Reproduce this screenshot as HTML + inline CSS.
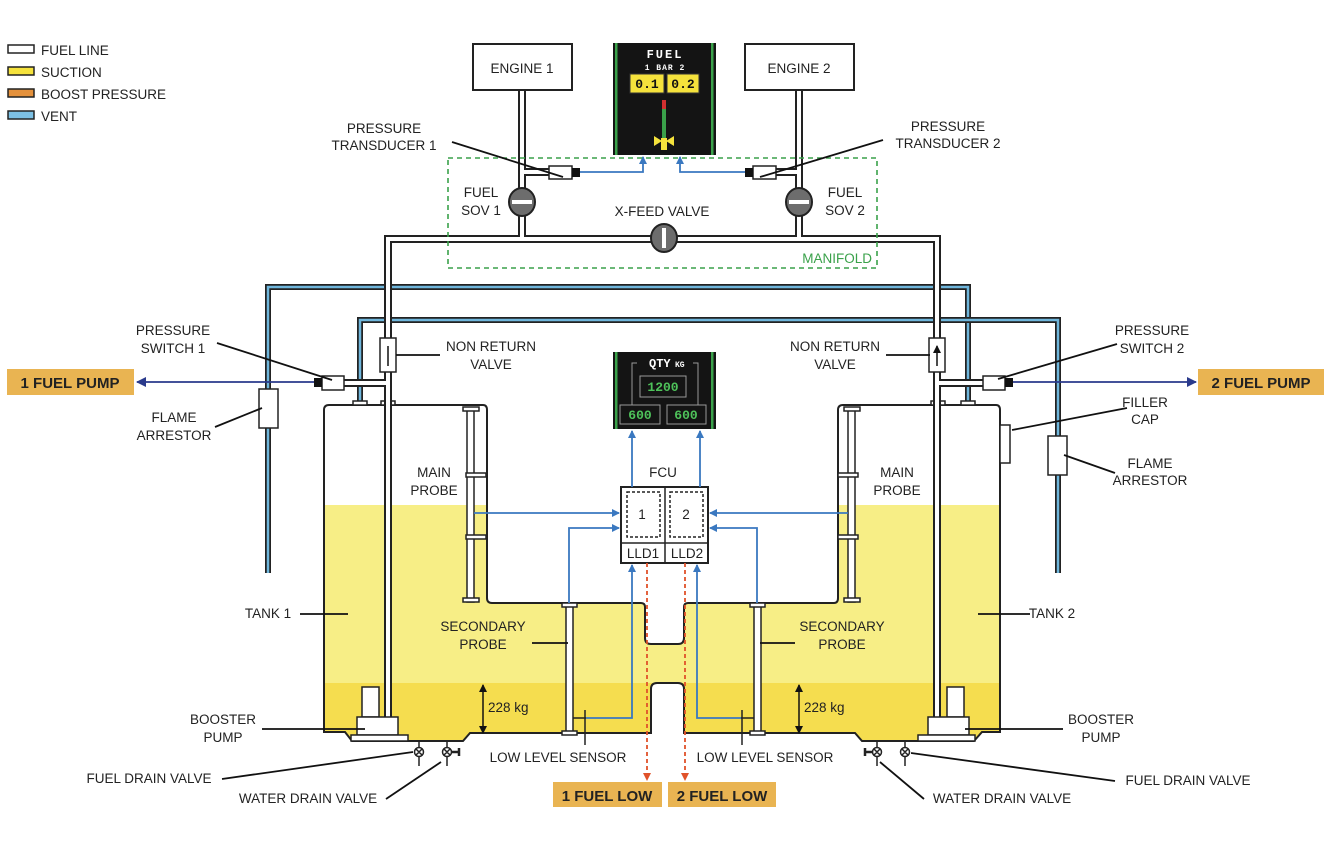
<!DOCTYPE html>
<html><head><meta charset="utf-8"><style>
html,body{margin:0;padding:0;background:#fff;}
svg{display:block;}
text{font-family:"Liberation Sans",sans-serif;font-size:13.5px;fill:#222;}
.c{text-anchor:middle;}
.mono{font-family:"Liberation Mono",monospace;font-weight:bold;}
</style></head><body>
<svg width="1334" height="850" viewBox="0 0 1334 850" xmlns="http://www.w3.org/2000/svg">
<defs>
<marker id="ab" markerWidth="8" markerHeight="8" refX="7" refY="4" orient="auto" markerUnits="userSpaceOnUse"><path d="M0,0 L8,4 L0,8 z" fill="#3a78c0"/></marker>
<marker id="an" markerWidth="10" markerHeight="10" refX="9" refY="5" orient="auto" markerUnits="userSpaceOnUse"><path d="M0,0 L10,5 L0,10 z" fill="#2a3a8c"/></marker>
<marker id="ar" markerWidth="8" markerHeight="8" refX="7" refY="4" orient="auto" markerUnits="userSpaceOnUse"><path d="M0,0 L8,4 L0,8 z" fill="#e0522a"/></marker>
<marker id="ak" markerWidth="8" markerHeight="8" refX="7" refY="4" orient="auto-start-reverse" markerUnits="userSpaceOnUse"><path d="M0,0 L8,4 L0,8 z" fill="#111"/></marker>
<clipPath id="tc"><path id="tp" d="M324,410 Q324,405 329,405 H483 Q487,405 487,410 V598 Q487,603 492,603 H641 Q645,603 645,607 V638 Q645,644 651,644 H678 Q684,644 684,638 V607 Q684,603 688,603 H834 Q838,603 838,598 V410 Q838,405 843,405 H996 Q1000,405 1000,410 V732 H982 L974,741 H862 L855,733 H684 V689 Q684,683 678,683 H657 Q651,683 651,689 V733 H470 L463,741 H352 L345,732 H324 Z"/></clipPath>
</defs>
<rect width="1334" height="850" fill="#fff"/>

<g stroke="#222" stroke-width="1.5">
<rect x="8" y="45" width="26" height="8" fill="#fff"/>
<rect x="8" y="67" width="26" height="8" fill="#f5e23c"/>
<rect x="8" y="89" width="26" height="8" fill="#e4913c"/>
<rect x="8" y="111" width="26" height="8" fill="#7cc0e4"/>
</g>
<text x="41" y="55">FUEL LINE</text>
<text x="41" y="77">SUCTION</text>
<text x="41" y="99">BOOST PRESSURE</text>
<text x="41" y="121">VENT</text>

<g clip-path="url(#tc)">
<rect x="300" y="505" width="720" height="178" fill="#f7ee86"/>
<rect x="300" y="683" width="720" height="70" fill="#f5dd4f"/>
</g>
<use href="#tp" fill="none" stroke="#222" stroke-width="2"/>

<g fill="none" stroke-linejoin="miter">
<path d="M268,573 V287 H968 V402" stroke="#222" stroke-width="6"/>
<path d="M268,573 V287 H968 V402" stroke="#6fb6dc" stroke-width="2.5"/>
<path d="M360,402 V320 H1058 V573" stroke="#222" stroke-width="6"/>
<path d="M360,402 V320 H1058 V573" stroke="#6fb6dc" stroke-width="2.5"/>
</g>
<g fill="#fff" stroke="#222" stroke-width="1.5">
<rect x="353" y="401" width="14" height="4"/><rect x="961" y="401" width="14" height="4"/>
<rect x="381" y="401" width="14" height="4"/><rect x="931" y="401" width="14" height="4"/>
<rect x="259" y="389" width="19" height="39"/>
<rect x="1048" y="436" width="19" height="39"/>
<rect x="1000" y="425" width="10" height="38"/>
</g>

<g fill="none" stroke-linejoin="miter">
<path d="M522,90 V239 M799,90 V239 M388,717 V239 H937 V717 M522,172 H550 M799,172 H770 M388,383 H340 M937,383 H985" stroke="#222" stroke-width="8"/>
<path d="M522,90 V239 M799,90 V239 M388,717 V239 H937 V717 M522,172 H550 M799,172 H770 M388,383 H340 M937,383 H985" stroke="#fff" stroke-width="4"/>
</g>

<rect x="473" y="44" width="99" height="46" fill="#fff" stroke="#222" stroke-width="2"/>
<text x="522" y="73" class="c">ENGINE 1</text>
<rect x="745" y="44" width="109" height="46" fill="#fff" stroke="#222" stroke-width="2"/>
<text x="799" y="73" class="c">ENGINE 2</text>

<rect x="613" y="43" width="103" height="112" fill="#141414"/>
<rect x="615" y="43" width="2.5" height="112" fill="#3aa14a"/>
<rect x="711" y="43" width="2.5" height="112" fill="#3aa14a"/>
<text x="665" y="58" class="c mono" style="fill:#fff;font-size:12px;letter-spacing:2px">FUEL</text>
<text x="665" y="70" class="c mono" style="fill:#fff;font-size:8px;letter-spacing:1px">1 BAR 2</text>
<rect x="630" y="74" width="34" height="19" fill="#f5e23c" stroke="#333"/>
<rect x="667" y="74" width="32" height="19" fill="#f5e23c" stroke="#333"/>
<text x="647" y="88" class="c mono" style="font-size:13px;fill:#111">0.1</text>
<text x="683" y="88" class="c mono" style="font-size:13px;fill:#111">0.2</text>
<rect x="662" y="100" width="4" height="9" fill="#d03030"/>
<rect x="662" y="109" width="4" height="32" fill="#3aa14a"/>
<rect x="661" y="138" width="6" height="12" fill="#f5e23c"/>
<path d="M654,136 L662,141 L654,146 Z M674,136 L666,141 L674,146 Z" fill="#f5e23c"/>

<rect x="549" y="166" width="23" height="13" fill="#fff" stroke="#222" stroke-width="1.5"/>
<rect x="572" y="168" width="8" height="9" fill="#111"/>
<rect x="753" y="166" width="23" height="13" fill="#fff" stroke="#222" stroke-width="1.5"/>
<rect x="745" y="168" width="8" height="9" fill="#111"/>
<path d="M580,172 H643 V157" fill="none" stroke="#3a78c0" stroke-width="1.8" marker-end="url(#ab)"/>
<path d="M745,172 H680 V157" fill="none" stroke="#3a78c0" stroke-width="1.8" marker-end="url(#ab)"/>

<g stroke="#222" stroke-width="2">
<ellipse cx="522" cy="202" rx="13" ry="14" fill="#6d6d6d"/>
<ellipse cx="799" cy="202" rx="13" ry="14" fill="#6d6d6d"/>
<ellipse cx="664" cy="238" rx="13" ry="14" fill="#6d6d6d"/>
</g>
<rect x="512" y="200" width="20" height="4" fill="#fff"/>
<rect x="789" y="200" width="20" height="4" fill="#fff"/>
<rect x="662" y="228" width="4" height="20" fill="#fff"/>

<rect x="448" y="158" width="429" height="110" fill="none" stroke="#3aa14a" stroke-width="1.6" stroke-dasharray="5,4"/>
<text x="872" y="263" style="fill:#3aa14a;text-anchor:end">MANIFOLD</text>

<rect x="380" y="338" width="16" height="34" fill="#fff" stroke="#222" stroke-width="1.5"/>
<rect x="929" y="338" width="16" height="34" fill="#fff" stroke="#222" stroke-width="1.5"/>
<path d="M388,366 V346 M937,366 V346" stroke="#111" stroke-width="1.5" marker-end="url(#ak)"/>

<rect x="322" y="376" width="22" height="14" fill="#fff" stroke="#222" stroke-width="1.5"/>
<rect x="314" y="378" width="8" height="9" fill="#111"/>
<rect x="983" y="376" width="22" height="14" fill="#fff" stroke="#222" stroke-width="1.5"/>
<rect x="1005" y="378" width="8" height="9" fill="#111"/>
<path d="M314,382 H137" stroke="#2a3a8c" stroke-width="1.8" marker-end="url(#an)"/>
<path d="M1013,382 H1196" stroke="#2a3a8c" stroke-width="1.8" marker-end="url(#an)"/>
<rect x="7" y="369" width="127" height="26" fill="#e9b452"/>
<text x="70" y="388" class="c" style="font-weight:bold;font-size:15px">1 FUEL PUMP</text>
<rect x="1198" y="369" width="126" height="26" fill="#e9b452"/>
<text x="1261" y="388" class="c" style="font-weight:bold;font-size:15px">2 FUEL PUMP</text>

<g fill="#fff" stroke="#222" stroke-width="1.5">
<rect x="467" y="410" width="7" height="192"/>
<rect x="848" y="410" width="7" height="192"/>
<rect x="463" y="407" width="16" height="4"/><rect x="463" y="598" width="16" height="4"/>
<rect x="844" y="407" width="16" height="4"/><rect x="844" y="598" width="16" height="4"/>
<rect x="466" y="473" width="20" height="4"/><rect x="466" y="535" width="20" height="4"/>
<rect x="838" y="473" width="20" height="4"/><rect x="838" y="535" width="20" height="4"/>
<rect x="566" y="606" width="7" height="126"/>
<rect x="754" y="606" width="7" height="126"/>
<rect x="562" y="603" width="15" height="4"/><rect x="562" y="731" width="15" height="4"/>
<rect x="750" y="603" width="15" height="4"/><rect x="750" y="731" width="15" height="4"/>
</g>
<path d="M573,718 H586 M585,710 V727 M754,718 H741 M742,710 V727" stroke="#222" stroke-width="1.5" fill="none"/>
<path d="M585,727 V745 M742,727 V745" stroke="#222" stroke-width="1.5"/>

<rect x="613" y="352" width="103" height="77" fill="#141414"/>
<rect x="615" y="352" width="2.5" height="77" fill="#3aa14a"/>
<rect x="711" y="352" width="2.5" height="77" fill="#3aa14a"/>
<path d="M632,405 V363 H637 M693,363 H698 V405" fill="none" stroke="#999" stroke-width="1"/>
<text x="649" y="367" class="mono" style="fill:#fff;font-size:12px">QTY</text>
<text x="675" y="367" class="mono" style="fill:#fff;font-size:8px">KG</text>
<rect x="640" y="376" width="46" height="21" fill="none" stroke="#999"/>
<text x="663" y="391" class="c mono" style="fill:#4ec25a;font-size:13px">1200</text>
<rect x="620" y="405" width="40" height="19" fill="none" stroke="#999"/>
<rect x="667" y="405" width="39" height="19" fill="none" stroke="#999"/>
<text x="640" y="419" class="c mono" style="fill:#4ec25a;font-size:13px">600</text>
<text x="686" y="419" class="c mono" style="fill:#4ec25a;font-size:13px">600</text>

<rect x="621" y="487" width="87" height="76" fill="#fff" stroke="#222" stroke-width="2"/>
<path d="M665,487 V563 M621,543 H708" stroke="#222" stroke-width="1.5"/>
<rect x="627" y="492" width="33" height="45" fill="none" stroke="#222" stroke-width="1.5" stroke-dasharray="3,2"/>
<rect x="670" y="492" width="33" height="45" fill="none" stroke="#222" stroke-width="1.5" stroke-dasharray="3,2"/>
<text x="642" y="519" class="c">1</text>
<text x="686" y="519" class="c">2</text>
<text x="643" y="558" class="c">LLD1</text>
<text x="687" y="558" class="c">LLD2</text>
<text x="663" y="477" class="c">FCU</text>

<g fill="none" stroke="#3a78c0" stroke-width="1.8" marker-end="url(#ab)">
<path d="M632,487 V431"/><path d="M700,487 V431"/>
<path d="M474,513 H619"/><path d="M848,513 H710"/>
<path d="M569,603 V528 H619"/><path d="M757,603 V528 H710"/>
<path d="M586,718 H632 V565"/><path d="M741,718 H697 V565"/>
</g>
<g fill="none" stroke="#e0522a" stroke-width="1.8" stroke-dasharray="4,3" marker-end="url(#ar)">
<path d="M647,563 V780"/><path d="M685,563 V780"/>
</g>
<rect x="553" y="782" width="109" height="25" fill="#e9b452"/>
<text x="607" y="801" class="c" style="font-weight:bold;font-size:15px">1 FUEL LOW</text>
<rect x="668" y="782" width="108" height="25" fill="#e9b452"/>
<text x="722" y="801" class="c" style="font-weight:bold;font-size:15px">2 FUEL LOW</text>

<path d="M483,685 V733" stroke="#111" stroke-width="1.5" marker-start="url(#ak)" marker-end="url(#ak)"/>
<path d="M799,685 V733" stroke="#111" stroke-width="1.5" marker-start="url(#ak)" marker-end="url(#ak)"/>
<text x="488" y="712">228 kg</text>
<text x="804" y="712">228 kg</text>

<g fill="#fff" stroke="#222" stroke-width="1.5">
<rect x="362" y="687" width="17" height="30"/>
<rect x="357" y="717" width="41" height="18"/>
<rect x="351" y="735" width="57" height="6"/>
<rect x="947" y="687" width="17" height="30"/>
<rect x="928" y="717" width="41" height="18"/>
<rect x="918" y="735" width="57" height="6"/>
</g>
<g fill="#fff" stroke="#222" stroke-width="1.5">
<path d="M419,741 V766 M447,741 V766 M877,741 V766 M905,741 V766"/>
<circle cx="419" cy="752" r="4.5"/><circle cx="447" cy="752" r="4.5"/>
<circle cx="877" cy="752" r="4.5"/><circle cx="905" cy="752" r="4.5"/>
<path d="M416,749 L422,755 M422,749 L416,755 M444,749 L450,755 M450,749 L444,755 M874,749 L880,755 M880,749 L874,755 M902,749 L908,755 M908,749 L902,755"/>
</g>
<path d="M451,752 H459 M459,748 V756 M873,752 H865 M865,748 V756" stroke="#222" stroke-width="2.5"/>

<g stroke="#111" stroke-width="1.8" fill="none">
<path d="M452,142 L563,177"/>
<path d="M883,140 L760,177"/>
<path d="M217,343 L332,380"/>
<path d="M396,355 H440"/>
<path d="M886,355 H930"/>
<path d="M215,427 L262,408"/>
<path d="M1117,344 L998,379"/>
<path d="M1127,408 L1012,430"/>
<path d="M1115,473 L1064,455"/>
<path d="M300,614 H348"/>
<path d="M978,614 H1030"/>
<path d="M532,643 H568"/>
<path d="M760,643 H795"/>
<path d="M262,729 H365"/>
<path d="M965,729 H1063"/>
<path d="M222,779 L413,752"/>
<path d="M386,799 L441,762"/>
<path d="M1115,781 L911,753"/>
<path d="M924,799 L880,762"/>
</g>

<text x="384" y="133" class="c">PRESSURE</text><text x="384" y="150" class="c">TRANSDUCER 1</text>
<text x="948" y="131" class="c">PRESSURE</text><text x="948" y="148" class="c">TRANSDUCER 2</text>
<text x="481" y="197" class="c">FUEL</text><text x="481" y="215" class="c">SOV 1</text>
<text x="845" y="197" class="c">FUEL</text><text x="845" y="215" class="c">SOV 2</text>
<text x="662" y="216" class="c">X-FEED VALVE</text>
<text x="173" y="335" class="c">PRESSURE</text><text x="173" y="353" class="c">SWITCH 1</text>
<text x="1152" y="335" class="c">PRESSURE</text><text x="1152" y="353" class="c">SWITCH 2</text>
<text x="491" y="351" class="c">NON RETURN</text><text x="491" y="369" class="c">VALVE</text>
<text x="835" y="351" class="c">NON RETURN</text><text x="835" y="369" class="c">VALVE</text>
<text x="174" y="422" class="c">FLAME</text><text x="174" y="440" class="c">ARRESTOR</text>
<text x="1150" y="468" class="c">FLAME</text><text x="1150" y="485" class="c">ARRESTOR</text>
<text x="1145" y="407" class="c">FILLER</text><text x="1145" y="424" class="c">CAP</text>
<text x="434" y="477" class="c">MAIN</text><text x="434" y="495" class="c">PROBE</text>
<text x="897" y="477" class="c">MAIN</text><text x="897" y="495" class="c">PROBE</text>
<text x="268" y="618" class="c">TANK 1</text>
<text x="1052" y="618" class="c">TANK 2</text>
<text x="483" y="631" class="c">SECONDARY</text><text x="483" y="649" class="c">PROBE</text>
<text x="842" y="631" class="c">SECONDARY</text><text x="842" y="649" class="c">PROBE</text>
<text x="223" y="724" class="c">BOOSTER</text><text x="223" y="742" class="c">PUMP</text>
<text x="1101" y="724" class="c">BOOSTER</text><text x="1101" y="742" class="c">PUMP</text>
<text x="558" y="762" class="c">LOW LEVEL SENSOR</text>
<text x="765" y="762" class="c">LOW LEVEL SENSOR</text>
<text x="149" y="783" class="c">FUEL DRAIN VALVE</text>
<text x="1188" y="785" class="c">FUEL DRAIN VALVE</text>
<text x="308" y="803" class="c">WATER DRAIN VALVE</text>
<text x="1002" y="803" class="c">WATER DRAIN VALVE</text>
</svg>
</body></html>
